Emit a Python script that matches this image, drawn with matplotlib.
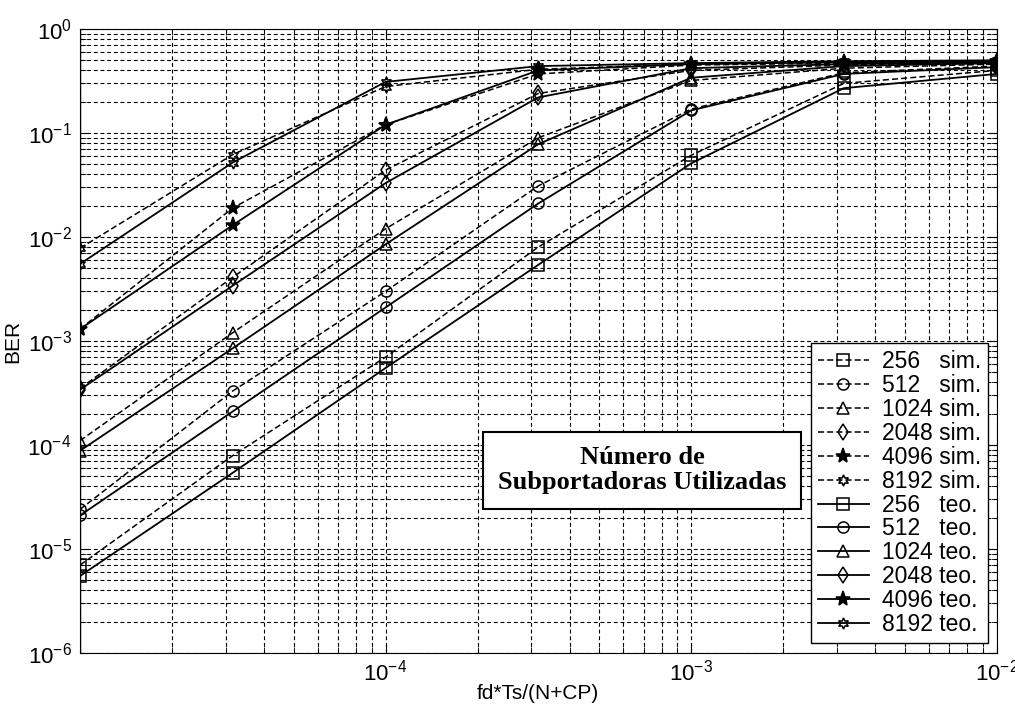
import numpy as np
import matplotlib
matplotlib.use("Agg")
import matplotlib.pyplot as plt
from matplotlib.ticker import FixedLocator, FixedFormatter

plt.rcParams['font.family'] = ['Liberation Sans', 'DejaVu Sans']
plt.rcParams['mathtext.fontset'] = 'custom'
plt.rcParams['mathtext.rm'] = 'Liberation Sans'
plt.rcParams['mathtext.it'] = 'Liberation Sans:italic'
plt.rcParams['mathtext.bf'] = 'Liberation Sans:bold'

# normalized doppler fd*Ts/(N+CP)
x = [1e-5, 3.16e-5, 1e-4, 3.16e-4, 1e-3, 3.16e-3, 1e-2]

carriers = ['256', '512', '1024', '2048', '4096', '8192']

ber_sim = {
    '256':  [7.0e-6, 7.9e-5, 7.0e-4, 8.0e-3, 0.061, 0.30, 0.40],
    '512':  [2.4e-5, 3.3e-4, 3.0e-3, 0.031, 0.17, 0.38, 0.44],
    '1024': [1.1e-4, 1.2e-3, 0.012, 0.090, 0.32, 0.42, 0.46],
    '2048': [3.5e-4, 4.1e-3, 0.044, 0.24, 0.40, 0.45, 0.47],
    '4096': [1.3e-3, 0.019, 0.12, 0.37, 0.45, 0.47, 0.49],
    '8192': [7.8e-3, 0.062, 0.28, 0.41, 0.46, 0.48, 0.49],
}
ber_teo = {
    '256':  [5.5e-6, 5.4e-5, 5.5e-4, 5.4e-3, 0.051, 0.27, 0.37],
    '512':  [2.1e-5, 2.1e-4, 2.1e-3, 0.021, 0.165, 0.37, 0.43],
    '1024': [8.8e-5, 8.5e-4, 8.5e-3, 0.078, 0.34, 0.44, 0.47],
    '2048': [3.4e-4, 3.4e-3, 0.033, 0.22, 0.42, 0.46, 0.48],
    '4096': [1.3e-3, 0.013, 0.12, 0.40, 0.46, 0.48, 0.49],
    '8192': [5.5e-3, 0.052, 0.31, 0.44, 0.47, 0.49, 0.50],
}

sim_labels = ['256   sim.', '512   sim.', '1024 sim.', '2048 sim.', '4096 sim.', '8192 sim.']
teo_labels = ['256   teo.', '512   teo.', '1024 teo.', '2048 teo.', '4096 teo.', '8192 teo.']

xtick_vals = [1e-4, 1e-3, 1e-2]
xtick_labels = [r'$10^{-4}$', r'$10^{-3}$', r'$10^{-2}$']

markers = {'256': 's', '512': 'o', '1024': '^', '2048': 'd', '4096': '*', '8192': (6, 1, 0)}
msizes = {'256': 9, '512': 8, '1024': 8, '2048': 8, '4096': 11, '8192': 8}

fig = plt.figure(figsize=(10.15, 7.11), dpi=100)
ax = fig.add_axes([0.0788, 0.0816, 0.9032, 0.8776])

for c, lab in zip(carriers, sim_labels):
    fc = 'k' if c == '4096' else 'none'
    ax.plot(x, ber_sim[c], color='k', lw=1.1, dashes=(4, 2), marker=markers[c],
            ms=msizes[c], mfc=fc, mec='k', mew=1.1, label=lab)
for c, lab in zip(carriers, teo_labels):
    fc = 'k' if c == '4096' else 'none'
    ax.plot(x, ber_teo[c], color='k', lw=1.3, ls='-', marker=markers[c],
            ms=msizes[c], mfc=fc, mec='k', mew=1.1, label=lab)

ax.set_xscale('log')
ax.set_yscale('log')
ax.set_xlim(1e-5, 1e-2)
ax.set_ylim(1e-6, 1)
ax.xaxis.set_major_locator(FixedLocator(xtick_vals))
ax.xaxis.set_major_formatter(FixedFormatter(xtick_labels))
ax.grid(True, which='both', color='k', ls=(0, (3.5, 2.5)), lw=0.8)
ax.axvline(1e-5, color='k', lw=1)
ax.tick_params(which='both', direction='in', top=True, right=True, labelsize=16)
ax.tick_params(which='major', length=6)
ax.tick_params(which='minor', length=4)
ax.tick_params(axis='y', pad=6)
ax.tick_params(axis='x', pad=5)
ax.set_xlabel('fd*Ts/(N+CP)', fontsize=15, labelpad=-1)
ax.set_ylabel('BER', fontsize=15, labelpad=4)

leg = ax.legend(loc='lower right', bbox_to_anchor=(0.991, 0.016), borderaxespad=0,
                fontsize=16.5, labelspacing=0.04, handlelength=2.2, handletextpad=0.6,
                borderpad=0.3, fancybox=False, framealpha=1, edgecolor='k')
leg.get_frame().set_linewidth(1.0)

ax.text(0.613, 0.293, 'Número de\nSubportadoras Utilizadas', transform=ax.transAxes,
        ha='center', va='center', fontsize=19, fontweight='bold',
        family=['Liberation Serif', 'DejaVu Serif'], linespacing=1.1,
        bbox=dict(boxstyle='square,pad=0.55', fc='white', ec='k', lw=1.5))

fig.savefig('out.png', dpi=100)
